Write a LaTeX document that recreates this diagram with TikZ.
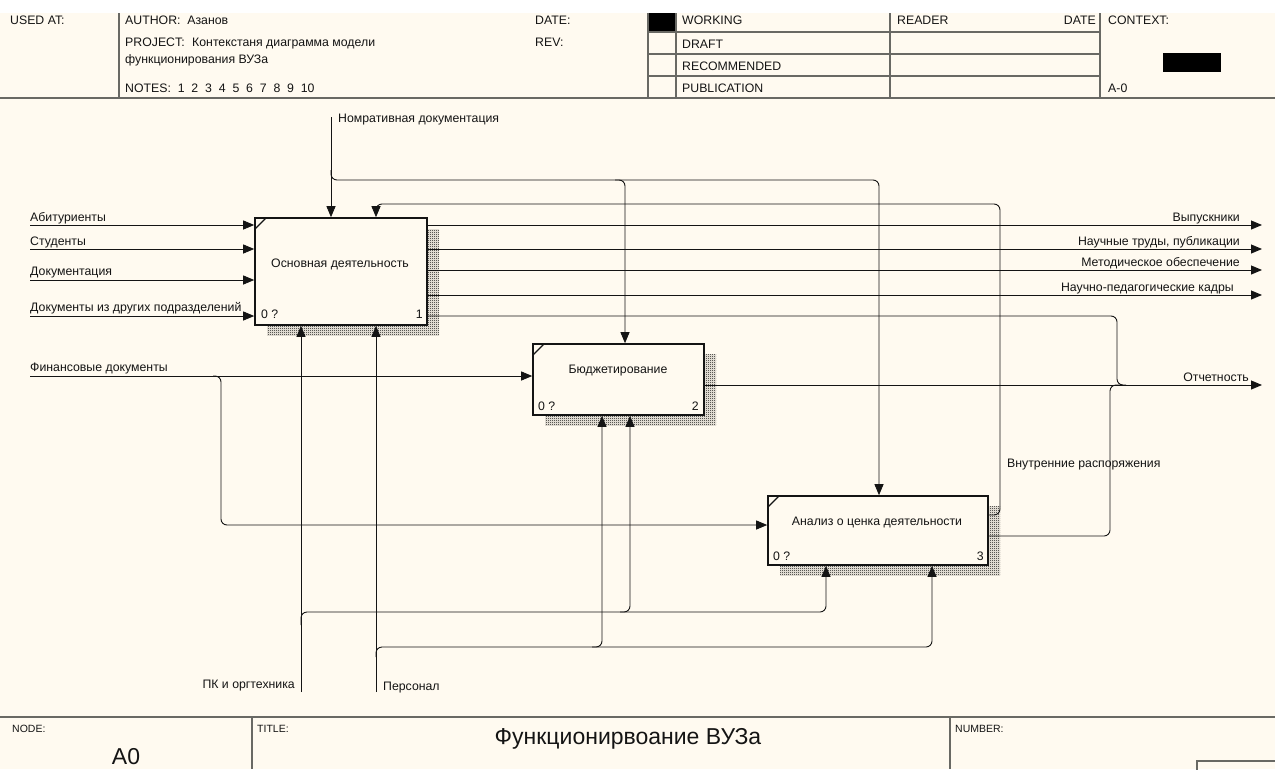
\documentclass[tikz,border=0pt]{standalone}
\usepackage{fontspec}
\setmainfont{Liberation Sans}
\usetikzlibrary{arrows.meta,patterns}
\definecolor{bg}{RGB}{255,250,240}
\definecolor{ink}{RGB}{20,20,20}
\definecolor{hdrline}{RGB}{105,105,100}
\pgfdeclarepatternformonly{checker}{\pgfpointorigin}{\pgfpoint{2pt}{2pt}}{\pgfpoint{2pt}{2pt}}{%
  \pgfpathrectangle{\pgfpointorigin}{\pgfpoint{1pt}{1pt}}%
  \pgfpathrectangle{\pgfpoint{1pt}{1pt}}{\pgfpoint{1pt}{1pt}}%
  \pgfusepath{fill}}
\pgfdeclarelayer{back}
\pgfdeclarelayer{shade}
\pgfsetlayers{back,shade,main}
\begin{document}
\begin{tikzpicture}[x=1pt,y=-1pt,
  txt/.style={font=\fontsize{12.3}{14}\selectfont, text=ink, inner sep=0pt},
  small/.style={font=\fontsize{10.5}{12}\selectfont, text=ink, inner sep=0pt},
  big/.style={font=\fontsize{23}{26}\selectfont, text=ink, inner sep=0pt},
  func/.style={draw=ink, line width=1.6pt, fill=bg, inner sep=0pt, rectangle},
  shdw/.style={pattern=checker, pattern color=black},
  conn/.style={draw=ink, line width=0.9pt, rounded corners=6pt},
  arr/.style={-{Triangle[length=11pt,width=9pt]}},
  hl/.style={draw=hdrline, line width=1.2pt}]
\useasboundingbox (0,0) rectangle (1275,769);
\begin{pgfonlayer}{back}
\fill[white] (0,0) rectangle (1275,13);
\fill[bg] (0,13) rectangle (1275,769);
\end{pgfonlayer}

% ---------- header ----------
\fill[black] (648,13) rectangle (676,32);
\fill[black] (1163,53) rectangle (1221,72);
\draw[hl] (119,13) -- (119,98);
\draw[hl] (648,13) -- (648,98);
\draw[hl] (676,13) -- (676,98);
\draw[hl] (890,13) -- (890,98);
\draw[hl] (1100,13) -- (1100,98);
\draw[hl] (648,32) -- (1100,32);
\draw[hl] (648,54) -- (1100,54);
\draw[hl] (648,76) -- (1100,76);
\draw[draw=hdrline, line width=2.4pt] (0,98) -- (1275,98);
\node[txt, anchor=base west] (hUsed) at (10,24) {USED AT:};
\node[txt, anchor=base west] (hAuth) at (125,24) {AUTHOR:\ \ Азанов};
\node[txt, anchor=base west] (hProj) at (125,46) {PROJECT:};
\node[txt, anchor=base west] (hProjT) at (192,46) {Контекстаня диаграмма модели};
\node[txt, anchor=base west] (hProjT2) at (125,63) {функционирования ВУЗа};
\node[txt, anchor=base west] (hNotes) at (125,92) {NOTES:\ \ 1\ \ 2\ \ 3\ \ 4\ \ 5\ \ 6\ \ 7\ \ 8\ \ 9\ \ 10};
\node[txt, anchor=base west] (hDate) at (535,24) {DATE:};
\node[txt, anchor=base west] (hRev) at (535,46) {REV:};
\node[txt, anchor=base west] (hWork) at (682,24) {WORKING};
\node[txt, anchor=base west] (hDraft) at (682,48) {DRAFT};
\node[txt, anchor=base west] (hRec) at (682,70) {RECOMMENDED};
\node[txt, anchor=base west] (hPub) at (682,92) {PUBLICATION};
\node[txt, anchor=base west] (hRead) at (897,24) {READER};
\node[txt, anchor=base east] (hDate2) at (1096,24) {DATE};
\node[txt, anchor=base west] (hCtx) at (1108,24) {CONTEXT:};
\node[txt, anchor=base west] (hA0) at (1108,92) {A-0};

% ---------- footer ----------
\draw[draw=hdrline, line width=2.4pt] (0,717) -- (1275,717);
\draw[hl] (252,717) -- (252,769);
\draw[hl] (950,717) -- (950,769);
\draw[hl] (1197,775) -- (1197,761) -- (1280,761);
\node[small, anchor=base west] (fNode) at (12,732) {NODE:};
\node[small, anchor=base west] (fTitle) at (257,732) {TITLE:};
\node[small, anchor=base west] (fNum) at (955,732) {NUMBER:};
\node[big, anchor=base] (fTitleT) at (628,744) {Функционирвоание ВУЗа};
\node[big, anchor=base] (fA0) at (126,764) {A0};

% ---------- function boxes ----------
\node[func, minimum width=172pt, minimum height=107pt] (b1) at (341,271.5) {};
\node[func, minimum width=171pt, minimum height=71pt] (b2) at (618.5,379.5) {};
\node[func, minimum width=220pt, minimum height=69pt] (b3) at (878,530.5) {};
\begin{pgfonlayer}{shade}
\fill[shdw] (267,229) rectangle (439,335);
\fill[shdw] (545,354) rectangle (716,425);
\fill[shdw] (780,506) rectangle (1000,575);
\end{pgfonlayer}
\draw[ink, line width=1.2pt] (255,229) -- (266,218);
\draw[ink, line width=1.2pt] (533,355) -- (544,344);
\draw[ink, line width=1.2pt] (768,507) -- (779,496);
\node[txt, anchor=center] (t1) at (340,264) {Основная деятельность};
\node[txt, anchor=center] (t2) at (618,371) {Бюджетирование};
\node[txt, anchor=center] (t3) at (877,522) {Анализ о ценка деятельности};
\node[txt, anchor=base west] (n1a) at (261,318) {0 ?};
\node[txt, anchor=base east] (n1b) at (423,318) {1};
\node[txt, anchor=base west] (n2a) at (538,410) {0 ?};
\node[txt, anchor=base east] (n2b) at (699,410) {2};
\node[txt, anchor=base west] (n3a) at (773,560) {0 ?};
\node[txt, anchor=base east] (n3b) at (984,560) {3};

% ---------- inputs ----------
\coordinate (iAbit) at (30,225);
\coordinate (iStud) at (30,249);
\coordinate (iDoc) at (30,280);
\coordinate (iDocO) at (30,316);
\coordinate (iFin) at (30,376);
\draw[conn,arr] (iAbit) -- (iAbit -| b1.west);
\draw[conn,arr] (iStud) -- (iStud -| b1.west);
\draw[conn,arr] (iDoc) -- (iDoc -| b1.west);
\draw[conn,arr] (iDocO) -- (iDocO -| b1.west);
\draw[conn,arr] (iFin) -- (iFin -| b2.west);
\coordinate (fb) at (221,376);
\coordinate (fb2) at (221,525);
\draw[conn,arr] (213,376) -- (fb) -- (fb2) -- (fb2 -| b3.west);
\node[txt, anchor=base west] (lAbit) at (30,221) {Абитуриенты};
\node[txt, anchor=base west] (lStud) at (30,245) {Студенты};
\node[txt, anchor=base west] (lDoc) at (30,275) {Документация};
\node[txt, anchor=base west] (lDocO) at (30,311) {Документы из других подразделений};
\node[txt, anchor=base west] (lFin) at (30,371) {Финансовые документы};

% ---------- outputs ----------
\coordinate (oVyp) at (1262,225);
\coordinate (oNauch) at (1262,249);
\coordinate (oMet) at (1262,270);
\coordinate (oKadr) at (1262,295);
\coordinate (oOtch) at (1262,385);
\draw[conn,arr] (oVyp -| b1.east) -- (oVyp);
\draw[conn,arr] (oNauch -| b1.east) -- (oNauch);
\draw[conn,arr] (oMet -| b1.east) -- (oMet);
\draw[conn,arr] (oKadr -| b1.east) -- (oKadr);
\draw[conn,arr] (oOtch -| b2.east) -- (oOtch);
\coordinate (j1) at (1117,316);
\draw[conn] (j1 -| b1.east) -- (j1) -- (1117,385) -- (1126,385);
\coordinate (j3) at (1110,536);
\draw[conn] (j3 -| b3.east) -- (j3) -- (1110,385) -- (1122,385);
\coordinate (vr) at (1000,515);
\coordinate (vrTop) at (1000,204);
\coordinate (c1top) at (376,204);
\draw[conn,arr] (vr -| b3.east) -- (vr) -- (vrTop) -- (c1top) -- (c1top |- b1.north);
\node[txt, anchor=base east] (lVyp) at (1240,221) {Выпускники};
\node[txt, anchor=base east] (lNauch) at (1240,245) {Научные труды, публикации};
\node[txt, anchor=base east] (lMet) at (1240,266) {Методическое обеспечение};
\node[txt, anchor=base east] (lKadr) at (1234,291) {Научно-педагогические кадры};
\node[txt, anchor=base east] (lOtch) at (1249,381) {Отчетность};
\node[txt, anchor=base west] (lVr) at (1007,467) {Внутренние распоряжения};

% ---------- controls ----------
\coordinate (norm) at (331,117);
\draw[conn,arr] (norm) -- (norm |- b1.north);
\coordinate (nb) at (331,180);
\coordinate (nb3) at (879,180);
\draw[conn,arr] (331,170) -- (nb) -- (nb3) -- (nb3 |- b3.north);
\coordinate (nb2) at (625,180);
\draw[conn,arr] (615,180) -- (nb2) -- (nb2 |- b2.north);
\node[txt, anchor=base west] (lNorm) at (338,122) {Номративная документация};

% ---------- mechanisms ----------
\coordinate (pk) at (301,692);
\draw[conn,arr] (pk) -- (pk |- b1.south);
\coordinate (pkh) at (301,612);
\coordinate (pk3) at (826,612);
\draw[conn,arr] (301,625) -- (pkh) -- (pk3) -- (pk3 |- b3.south);
\coordinate (pk2) at (630,612);
\draw[conn,arr] (620,612) -- (pk2) -- (pk2 |- b2.south);
\coordinate (per) at (376,692);
\draw[conn,arr] (per) -- (per |- b1.south);
\coordinate (perh) at (376,647);
\coordinate (per3) at (932,647);
\draw[conn,arr] (376,657) -- (perh) -- (per3) -- (per3 |- b3.south);
\coordinate (per2) at (602,647);
\draw[conn,arr] (592,647) -- (per2) -- (per2 |- b2.south);
\node[txt, anchor=base east] (lPk) at (295,688) {ПК и оргтехника};
\node[txt, anchor=base west] (lPer) at (383,690) {Персонал};
\end{tikzpicture}
\end{document}
